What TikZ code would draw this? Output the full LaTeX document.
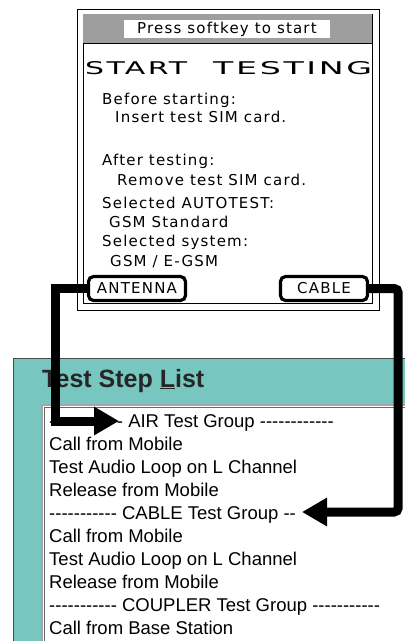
\documentclass[tikz,border=0pt]{standalone}
\usepackage{fontspec}
\usetikzlibrary{arrows.meta}

\newfontfamily\lcdfont{DejaVu Sans}[LetterSpace=8]
\newfontfamily\listfont{Liberation Sans}
\newcommand\dashrun[1]{\foreach\k in {1,...,#1}{-}}
\definecolor{panelteal}{RGB}{120,198,192}

\begin{document}
\begin{tikzpicture}[x=1pt, y=-1pt,
    lcd/.style={anchor=base west, inner sep=0pt, font=\lcdfont\fontsize{15}{15}\selectfont},
    softkey/.style={draw, line width=3.2pt, rounded corners=5pt, inner sep=0pt,
      minimum height=24pt, font=\lcdfont\fontsize{15}{15}\selectfont},
    steprow/.style={anchor=base west, inner sep=0pt, font=\listfont\fontsize{18.5}{18.5}\selectfont},
    pointer/.style={line width=9pt, -{Triangle[length=25pt, width=27pt]}}]
  \useasboundingbox (0,0) rectangle (405,641);

  % handset screen
  \draw[fill=white, line width=1pt] (77,9) rectangle (379,310);
  \draw[line width=0.8pt] (83,14) rectangle (372,303);
  \fill[black!38] (83,14) rectangle (372,43);
  \draw[line width=0.8pt] (83,43) -- (372,43);
  \node[fill=white, inner sep=0pt, minimum width=206pt, minimum height=18pt,
    font=\lcdfont\fontsize{15}{15}\selectfont] (prompt) at (227,29) {Press softkey to start};

  \node[anchor=south west, inner sep=0pt] (startword) at (85,75)
    {\resizebox{102pt}{13pt}{\lcdfont START}};
  \node[anchor=south west, inner sep=0pt] (testword) at (213,75)
    {\resizebox{159pt}{13pt}{\lcdfont TESTING}};

  \node[lcd] (before) at (102,104) {Before starting:};
  \node[lcd] (insert) at (115,122) {Insert test SIM card.};
  \node[lcd] (after) at (102,165) {After testing:};
  \node[lcd] (remove) at (117,185) {Remove test SIM card.};
  \node[lcd] (selauto) at (102,208) {Selected AUTOTEST:};
  \node[lcd] (gsmstd) at (109,227) {GSM Standard};
  \node[lcd] (selsys) at (102,246) {Selected system:};
  \node[lcd] (gsmsys) at (110,266) {GSM / E-GSM};

  \node[softkey, minimum width=97pt] (antenna) at (137,288.5) {ANTENNA};
  \node[softkey, minimum width=87pt] (cable) at (324,288.5) {CABLE};

  % test step list window
  \fill[panelteal] (13,358) rectangle (405,641);
  \draw[black!70, line width=1pt] (13,641) -- (13,358) -- (405,358);
  \node[anchor=base west, inner sep=0pt, text=black!85,
    font=\listfont\bfseries\fontsize{25}{25}\selectfont] (title) at (42,387)
    {Test Step \underline{L}ist};

  \fill[white] (42,405) rectangle (405,641);
  \draw[black!35, line width=1.5pt] (42,641) -- (42,405) -- (405,405);
  \draw[black!60, line width=0.6pt] (44.5,641) -- (44.5,407.5) -- (405,407.5);

  \node[steprow] (airgrp) at (49,427) {\dashrun{12} AIR Test Group \dashrun{12}};
  \node[steprow] (aircall) at (49,450) {Call from Mobile};
  \node[steprow] (airaudio) at (49,473) {Test Audio Loop on L Channel};
  \node[steprow] (airrel) at (49,496) {Release from Mobile};
  \node[steprow] (cablegrp) at (49,519) {\dashrun{11} CABLE Test Group \dashrun{2}};
  \node[steprow] (cablecall) at (49,542) {Call from Mobile};
  \node[steprow] (cableaudio) at (49,565) {Test Audio Loop on L Channel};
  \node[steprow] (cablerel) at (49,588) {Release from Mobile};
  \node[steprow] (couplergrp) at (49,611) {\dashrun{11} COUPLER Test Group \dashrun{11}};
  \node[steprow] (couplercall) at (49,634) {Call from Base Station};

  % softkey pointers
  \coordinate (airtip) at (119,421);
  \coordinate (cabletip) at (302,512);
  \draw[pointer] (antenna.west) -| ([xshift=-31pt]antenna.west |- airtip) -- (airtip);
  \draw[pointer, rounded corners=4pt] (cable.east) -| ([xshift=29pt]cable.east |- cabletip) -- (cabletip);
\end{tikzpicture}
\end{document}
